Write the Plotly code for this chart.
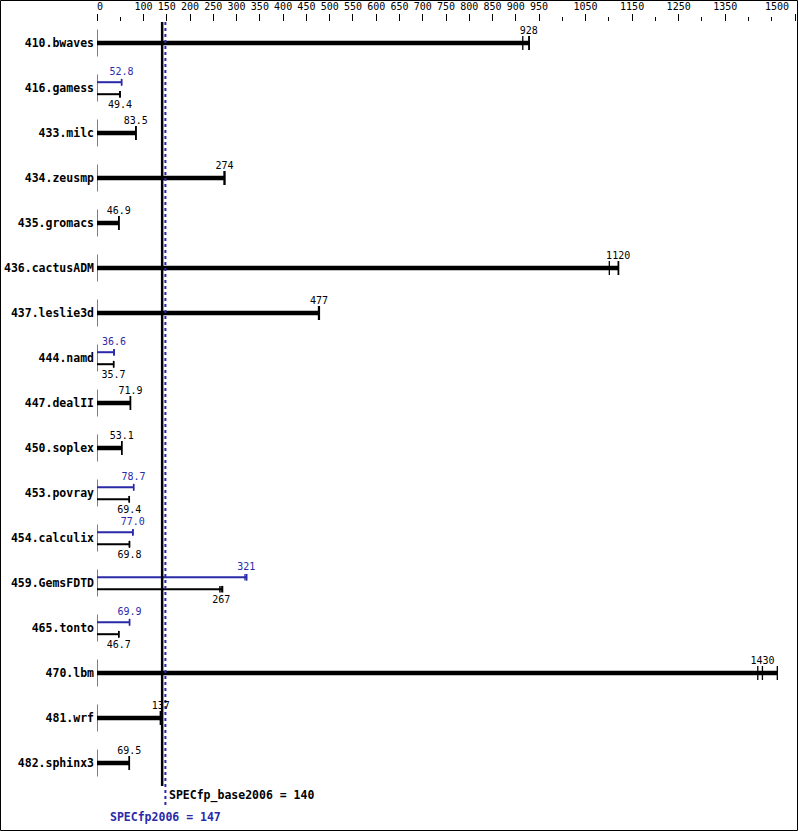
import plotly.graph_objects as go

# ---------------- data ----------------
benchmarks = ["410.bwaves", "416.gamess", "433.milc", "434.zeusmp", "435.gromacs",
              "436.cactusADM", "437.leslie3d", "444.namd", "447.dealII", "450.soplex",
              "453.povray", "454.calculix", "459.GemsFDTD", "465.tonto", "470.lbm",
              "481.wrf", "482.sphinx3"]
base_score = [928, 49.4, 83.5, 274, 46.9, 1120, 477, 35.7, 71.9, 53.1,
              69.4, 69.8, 267, 46.7, 1430, 137, 69.5]
base_runs = [[915, 928, 929], [49.2, 49.4, 49.6], [83.0, 83.5, 84.0], [273, 274, 275],
             [46.7, 46.9, 47.1], [1101, 1120, 1121], [476, 477, 478], [35.5, 35.7, 35.9],
             [71.7, 71.9, 72.1], [52.9, 53.1, 53.3], [69.2, 69.4, 69.6], [69.6, 69.8, 70.0],
             [264, 267, 270], [46.5, 46.7, 46.9], [1420, 1430, 1462], [136, 137, 138],
             [69.3, 69.5, 69.7]]
peak_score = [None, 52.8, None, None, None, None, None, 36.6, None, None,
              78.7, 77.0, 321, 69.9, None, None, None]
peak_runs = [None, [52.6, 52.8, 53.0], None, None, None, None, None, [36.4, 36.6, 36.8],
             None, None, [78.5, 78.7, 78.9], [76.8, 77.0, 77.2], [318, 321, 322],
             [69.7, 69.9, 70.1], None, None, None]
overall_base = 140
overall_peak = 147
base_label = "SPECfp_base2006 = 140"
peak_label = "SPECfp2006 = 147"
major_ticks = [0, 100, 150, 200, 250, 300, 350, 400, 450, 500, 550, 600, 650, 700,
               750, 800, 850, 900, 950, 1050, 1150, 1250, 1350, 1500]
minor_ticks = [50, 1000, 1100, 1200, 1300, 1400, 1450]

# ---------------- style ----------------
W, H = 799, 831
ML, MR, MT, MB = 97, 4, 22, 0
PX_PER_ROW = 45.0
FIRST_ROW_PX = 43.0
plot_h = H - MT - MB
y_top = -(FIRST_ROW_PX - MT) / PX_PER_ROW
y_bot = y_top + plot_h / PX_PER_ROW
row = lambda px: px / PX_PER_ROW  # pixel offset -> row units

BLUE = "#2a2aa8"
BLACK = "#000000"
MONO = "DejaVu Sans Mono"
NB = "\u00a0"


def fmt(v):
    if v >= 1000:
        return f"{round(v, -1):.0f}"
    if v >= 100:
        return f"{v:.0f}"
    return f"{v:.1f}"


def tick_text(t):
    # the first label sits slightly right of its tick; the last one is drawn separately
    if t == major_ticks[0]:
        return NB + str(t)
    if t == major_ticks[-1]:
        return ""
    return str(t)


fig = go.Figure()

def seg_trace(xs, ys, color, width, dash=None):
    line = dict(color=color, width=width)
    if dash:
        line["dash"] = dash
    fig.add_trace(go.Scatter(x=xs, y=ys, mode="lines", line=line,
                             hoverinfo="skip", showlegend=False, cliponaxis=False))

# axis stubs at zero for each row
ax_x, ax_y = [], []
for i in range(len(benchmarks)):
    ax_x += [0, 0, None]
    ax_y += [i - row(13.5), i + row(13.5), None]
seg_trace(ax_x, ax_y, BLACK, 1)

thick_x, thick_y, thick_tx, thick_ty = [], [], [], []
bthin_x, bthin_y, bthin_tx, bthin_ty = [], [], [], []
pthin_x, pthin_y, pthin_tx, pthin_ty = [], [], [], []
lab_x, lab_y, lab_t = [], [], []
blab_x, blab_y, blab_t = [], [], []
plab_x, plab_y, plab_t = [], [], []

for i, name in enumerate(benchmarks):
    if peak_score[i] is None:
        runs = base_runs[i]
        thick_x += [0, max(runs), None]
        thick_y += [i, i, None]
        for r in runs:
            thick_tx += [r, r, None]
            thick_ty += [i - row(7), i + row(7), None]
        lab_x.append(base_score[i]); lab_y.append(i - row(11.5)); lab_t.append(fmt(base_score[i]))
    else:
        yp = i - row(5.8)
        yb = i + row(6.2)
        pr = peak_runs[i]
        pthin_x += [0, max(pr), None]
        pthin_y += [yp, yp, None]
        for r in pr:
            pthin_tx += [r, r, None]
            pthin_ty += [yp - row(3.3), yp + row(3.3), None]
        br = base_runs[i]
        bthin_x += [0, max(br), None]
        bthin_y += [yb, yb, None]
        for r in br:
            bthin_tx += [r, r, None]
            bthin_ty += [yb - row(3.3), yb + row(3.3), None]
        plab_x.append(peak_score[i]); plab_y.append(i - row(15.8)); plab_t.append(fmt(peak_score[i]))
        blab_x.append(base_score[i]); blab_y.append(i + row(17.8)); blab_t.append(fmt(base_score[i]))

seg_trace(thick_x, thick_y, BLACK, 4.5)
seg_trace(thick_tx, thick_ty, BLACK, 1.3)
seg_trace(bthin_x, bthin_y, BLACK, 2)
seg_trace(bthin_tx, bthin_ty, BLACK, 1.3)
seg_trace(pthin_x, pthin_y, BLUE, 2)
seg_trace(pthin_tx, pthin_ty, BLUE, 1.3)

# overall lines
seg_trace([overall_base, overall_base], [y_top, row(786 - FIRST_ROW_PX)], BLACK, 2.5)
seg_trace([overall_peak, overall_peak], [y_top, row(806 - FIRST_ROW_PX)], BLUE, 2, dash="dot")

for xs, ys, ts, col in [(lab_x, lab_y, lab_t, BLACK), (blab_x, blab_y, blab_t, BLACK),
                        (plab_x, plab_y, plab_t, BLUE)]:
    fig.add_trace(go.Scatter(x=xs, y=ys, text=ts, mode="text", textposition="middle center",
                             textfont=dict(family=MONO, size=10, color=col),
                             hoverinfo="skip", showlegend=False, cliponaxis=False))

fig.add_annotation(x=overall_base, y=row(795 - FIRST_ROW_PX), text="<b>" + base_label + "</b>",
                   xanchor="left", yanchor="middle", xshift=5, showarrow=False,
                   font=dict(family=MONO, size=11.5, color=BLACK))
fig.add_annotation(x=overall_peak, y=row(817 - FIRST_ROW_PX), text="<b>" + peak_label + "</b>",
                   xanchor="center", yanchor="middle", showarrow=False,
                   font=dict(family=MONO, size=11.5, color=BLUE))

# last axis label, placed just left of its tick (as in the reference)
fig.add_annotation(x=major_ticks[-1], xref="x", y=1 + (MT - 7) / plot_h, yref="paper",
                   text=str(major_ticks[-1]), xanchor="right", yanchor="middle", xshift=-4,
                   showarrow=False, font=dict(family=MONO, size=10, color=BLACK))

# frame
pw = W - ML - MR
fig.add_shape(type="rect", xref="paper", yref="paper",
              x0=(0.5 - ML) / pw, x1=(W - 1.5 - ML) / pw,
              y0=0.5 / plot_h, y1=1 + (MT - 0.5) / plot_h,
              line=dict(color=BLACK, width=1))

fig.update_layout(
    width=W, height=H,
    margin=dict(l=ML, r=MR, t=MT, b=MB, pad=0, autoexpand=False),
    plot_bgcolor="white", paper_bgcolor="white",
    xaxis=dict(range=[0, 1500], side="top", showgrid=False, zeroline=False, showline=False,
               automargin=False,
               tickmode="array", tickvals=major_ticks, ticktext=[tick_text(t) for t in major_ticks],
               ticks="outside", ticklen=7, tickwidth=1, tickcolor=BLACK,
               ticklabeloverflow="allow",
               tickfont=dict(family=MONO, size=10, color=BLACK),
               minor=dict(tickvals=minor_ticks, ticks="outside", ticklen=4, tickwidth=1,
                          tickcolor=BLACK, showgrid=False)),
    yaxis=dict(range=[y_bot, y_top], showgrid=False, zeroline=False, showline=False,
               automargin=False,
               tickmode="array", tickvals=list(range(len(benchmarks))),
               ticktext=["<b>" + b + "</b>" for b in benchmarks], ticks="",
               tickfont=dict(family=MONO, size=11.5, color=BLACK), ticklabelstandoff=2),
)

fig.write_html("out.html", config={"displayModeBar": False},
               post_script="document.body.style.margin='0';")
